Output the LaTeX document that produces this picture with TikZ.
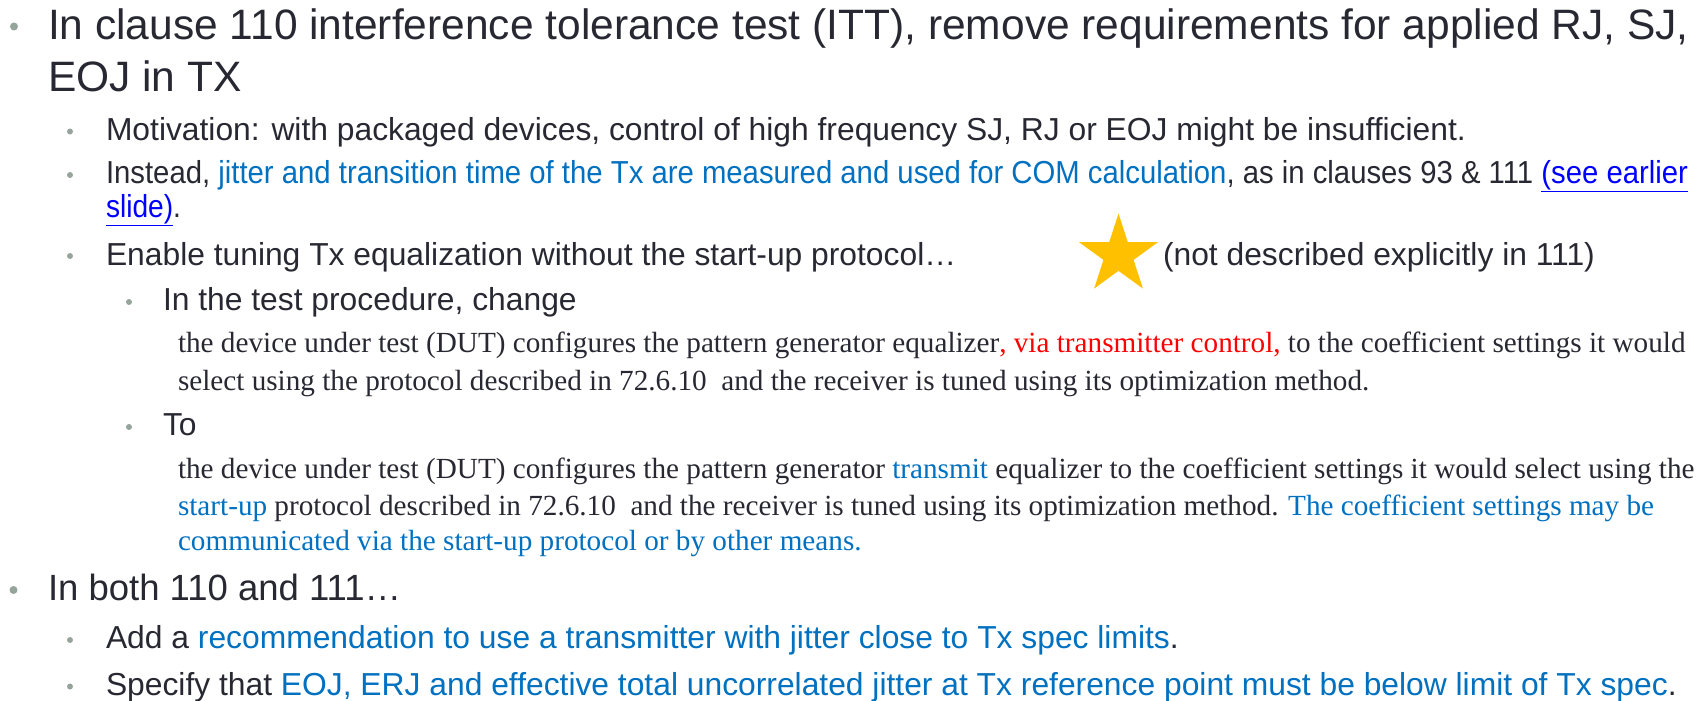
\documentclass[tikz,border=0pt]{standalone}
\usepackage{graphicx}
\usepackage{fontspec}
\setmainfont{Liberation Sans}
\newfontfamily\serifface{Liberation Serif}
\usetikzlibrary{shapes.geometric}
\definecolor{txt}{RGB}{40,40,50}
\definecolor{blu}{RGB}{0,112,192}
\definecolor{lnk}{RGB}{0,0,255}
\definecolor{rd}{RGB}{255,0,0}
\definecolor{bul}{RGB}{150,165,155}
\definecolor{starc}{RGB}{255,192,0}
\begin{document}
\begin{tikzpicture}[x=1pt,y=-1pt,
  base/.style={anchor=base west,inner sep=0pt,outer sep=0pt,text=txt},
  lA/.style={base,font=\fontsize{42.5}{50}\selectfont},
  lA2/.style={base,font=\fontsize{36.5}{44}\selectfont},
  lB/.style={base,font=\fontsize{31.8}{38}\selectfont},
  lS/.style={base,font=\serifface\fontsize{29.2}{35}\selectfont},
  bA/.style={circle,fill=bul,inner sep=0pt,minimum size=8pt},
  bB/.style={circle,fill=bul,inner sep=0pt,minimum size=6pt}]
\useasboundingbox (0,0) rectangle (1700,701);
% level 1
\node[bA] (b1) at (14,26.5) {};
\node[lA] (t1) at (48,40) {In clause 110 interference tolerance test (ITT), remove requirements for applied RJ, SJ,};
\node[lA] (t1b) at (48,91.5) {EOJ in TX};
\node[bB] (b2) at (70,131.5) {};
\node[lB] (t2) at (106,140) {Motivation: with packaged devices, control of high frequency SJ, RJ or EOJ might be insufficient.};
\node[bB] (b3) at (70,175) {};
\node[lB] (t3) at (106,183.5) {\resizebox{1582pt}{\height}{Instead, \textcolor{blu}{jitter and transition time of the Tx are measured and used for COM calculation}, as in clauses 93 \& 111 \textcolor{lnk}{\underline{(see earlier}}}};
\node[lB] (t3b) at (106,217) {\resizebox{75pt}{\height}{\textcolor{lnk}{\underline{slide)}}.}};
\node[bB] (b4) at (70,256) {};
\node[lB] (t4) at (106,265) {Enable tuning Tx equalization without the start-up protocol…};
\node[star,star points=5,star point ratio=2.618,fill=starc,inner sep=0pt,minimum size=83pt] (st) at (1118.5,255) {};
\node[lB] (t4n) at (1163,265) {(not described explicitly in 111)};
\node[bB] (b5) at (129,302) {};
\node[lB] (t5) at (163,310.5) {In the test procedure, change};
\node[lS] (s1) at (178,352) {the device under test (DUT) configures the pattern generator equalizer\textcolor{rd}{, via transmitter control,} to the coefficient settings it would};
\node[lS] (s2) at (178,390) {select using the protocol described in 72.6.10\ \ and the receiver is tuned using its optimization method.};
\node[bB] (b6) at (129,427) {};
\node[lB] (t6) at (163,435.5) {To};
\node[lS] (s3) at (178,478.5) {the device under test (DUT) configures the pattern generator \textcolor{blu}{transmit} equalizer to the coefficient settings it would select using the};
\node[lS] (s4) at (178,515) {\textcolor{blu}{start-up} protocol described in 72.6.10\ \ and the receiver is tuned using its optimization method. \textcolor{blu}{The coefficient settings may be}};
\node[lS] (s5) at (178,550.5) {\textcolor{blu}{communicated via the start-up protocol or by other means.}};
\node[bA] (b7) at (13.5,590) {};
\node[lA2] (t7) at (48,600.5) {In both 110 and 111…};
\node[bB] (b8) at (70,640) {};
\node[lB] (t8) at (106,648.5) {Add a \textcolor{blu}{recommendation to use a transmitter with jitter close to Tx spec limits}.};
\node[bB] (b9) at (70,686.5) {};
\node[lB] (t9) at (106,695) {Specify that \textcolor{blu}{EOJ, ERJ and effective total uncorrelated jitter at Tx reference point must be below limit of Tx spec}.};
\end{tikzpicture}
\end{document}
